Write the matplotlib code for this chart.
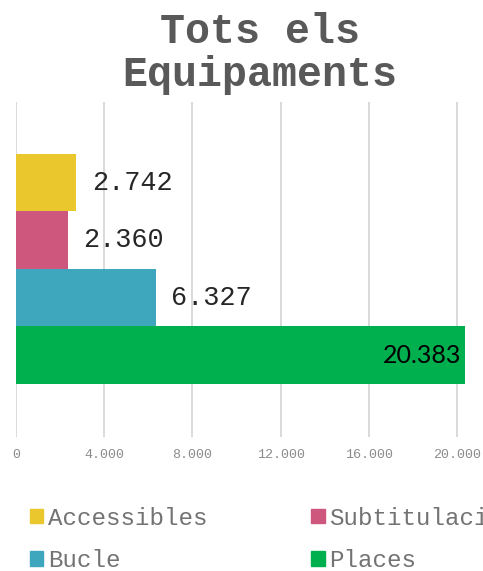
import matplotlib
matplotlib.use("Agg")
import matplotlib.pyplot as plt
import numpy as np

# data
series = ["Accessibles", "Subtitulació", "Bucle", "Places"]
values = [2742, 2360, 6327, 20383]
colors = ["#EAC72C", "#CD577D", "#3EA6BD", "#00AF4E"]
ticks = [0, 4000, 8000, 12000, 16000, 20000]

mono = "Liberation Mono"


def fmt(v):
    # catalan style thousands separator
    return f"{v:,.0f}".replace(",", ".")


W, H = 483, 571
fig = plt.figure(figsize=(W / 100, H / 100), dpi=100)
ax = fig.add_axes([16 / W, (H - 437) / H, (475 - 16) / W, (437 - 102) / H])

pos = np.arange(len(values))
ax.barh(pos, values, height=1.0, color=colors, zorder=2)

ax.set_ylim(4.42, -1.40)
ax.set_xlim(0, 20000 * (475 - 16) / 441)
ax.set_xticks(ticks)
ax.set_xticklabels([fmt(t) for t in ticks], family=mono, fontsize=9.6, color="#8c8c8c")
ax.set_yticks([])
ax.tick_params(axis="x", length=0, pad=9)
ax.grid(axis="x", color="#d9d9d9", linewidth=1.4, zorder=0)
for s in ax.spines.values():
    s.set_visible(False)

# value labels
for i, v in enumerate(values):
    if v > 15000:
        ax.annotate(fmt(v), (v, i), xytext=(-3, 0), textcoords="offset points",
                    ha="right", va="center", family="Lato", fontsize=18, color="black")
    else:
        ax.annotate(fmt(v), (v, i), xytext=(11, 0), textcoords="offset points",
                    ha="left", va="center", family=mono, fontsize=19.4, color="#262626")

# title in two lines
fig.text(259.5 / W, 1 - 43 / H, "Tots els", ha="center", va="baseline",
         family=mono, fontsize=30, fontweight="bold", color="#595959")
fig.text(259.5 / W, 1 - 86 / H, "Equipaments", ha="center", va="baseline",
         family=mono, fontsize=30, fontweight="bold", color="#595959")

# legend, column-first order
order = [0, 2, 1, 3]
handles = [plt.Rectangle((0, 0), 1, 1, color=colors[k]) for k in order]
fig.legend(handles, [series[k] for k in order], ncol=2, loc="upper left",
           bbox_to_anchor=(20 / W, 1 - 497 / H), frameon=False,
           prop={"family": mono, "size": 17.4}, labelcolor="#737373",
           handlelength=0.55, handleheight=0.55, handletextpad=0.2,
           columnspacing=4.3, labelspacing=0.8, borderaxespad=0)

plt.savefig("out.png", dpi=100)
